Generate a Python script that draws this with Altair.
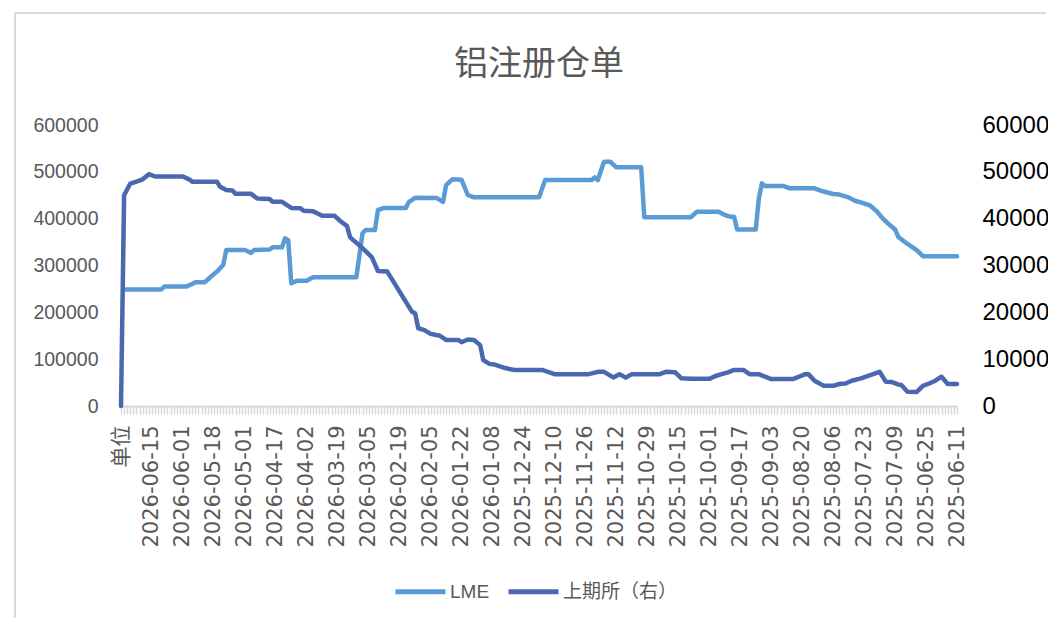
import json
import altair as alt
import pandas as pd

# ---- data ----
x_labels = ["单位", "2026-06-15", "2026-06-01", "2026-05-18", "2026-05-01", "2026-04-17",
            "2026-04-02", "2026-03-19", "2026-03-05", "2026-02-19", "2026-02-05", "2026-01-22",
            "2026-01-08", "2025-12-24", "2025-12-10", "2025-11-26", "2025-11-12", "2025-10-29",
            "2025-10-15", "2025-10-01", "2025-09-17", "2025-09-03", "2025-08-20", "2025-08-06",
            "2025-07-23", "2025-07-09", "2025-06-25", "2025-06-11"]

lme_idx = [1, 13, 14, 21, 23, 24, 27, 29, 31, 33, 34, 40, 42, 43, 48, 49, 52, 53, 54, 55,
           57, 60, 62, 76, 78, 79, 82, 83, 85, 92, 93, 94, 95, 102, 104, 105, 107, 110, 112,
           114, 135, 137, 152, 153, 154, 156, 158, 160, 168, 169, 184, 186, 193, 195, 197,
           198, 199, 205, 206, 207, 208, 214, 216, 224, 226, 230, 232, 235, 237, 240, 242,
           244, 246, 248, 250, 251, 254, 257, 259, 270]
lme_val = [249000, 249000, 255000, 255000, 260500, 264000, 264000, 276000, 287000, 301000,
           333000, 333000, 327000, 333000, 334000, 339000, 339000, 358000, 354000, 262000,
           267600, 267600, 274700, 274700, 368700, 375800, 375800, 418500, 423000, 423000,
           436000, 440000, 444700, 444000, 436000, 471800, 484000, 483000, 450500, 445500,
           445500, 482500, 482500, 488000, 482500, 521600, 521600, 509600, 509600, 402900,
           403000, 414800, 414800, 407800, 404000, 404000, 377000, 377000, 443000, 475400,
           469700, 469700, 464800, 464800, 459700, 452600, 451500, 445500, 438300, 432800,
           427700, 416300, 400700, 388000, 377000, 361500, 346000, 333000, 320000, 320000]

shfe_idx = [0, 1, 3, 5, 7, 9, 11, 20, 22, 23, 31, 32, 34, 36, 37, 42, 44, 48, 49, 52, 55,
            58, 59, 62, 65, 69, 71, 73, 74, 78, 81, 83, 86, 94, 95, 96, 98, 100, 103, 105,
            109, 110, 112, 114, 116, 117, 119, 121, 124, 127, 136, 140, 151, 154, 156, 159,
            161, 163, 165, 174, 176, 179, 181, 184, 190, 192, 194, 196, 198, 201, 203, 206,
            208, 210, 217, 219, 221, 222, 224, 227, 230, 232, 234, 236, 239, 242, 245, 247,
            249, 251, 252, 254, 257, 259, 261, 263, 265, 267, 270]
shfe_val = [0, 450000, 475000, 479000, 484000, 495000, 490000, 490000, 484000, 479000,
            479000, 468000, 461000, 460000, 453000, 453000, 443000, 442000, 436000, 436000,
            423000, 422000, 417000, 416000, 406000, 406000, 394000, 384000, 360000, 337000,
            318000, 288000, 287000, 201000, 198000, 166000, 162000, 154000, 150000, 141000,
            141000, 136000, 142000, 141000, 130000, 98000, 90000, 88000, 81000, 77000,
            77000, 68000, 68000, 73000, 73000, 61000, 68000, 60500, 68000, 68000,
            73000, 72000, 59000, 58000, 58000, 64000, 68000, 72000, 77000, 77000,
            68000, 68000, 62500, 57500, 57500, 62500, 68000, 68000, 54000, 43000,
            43000, 47000, 48000, 54000, 59000, 66000, 73000, 52000, 51000, 46000,
            45000, 30500, 30000, 43000, 48000, 54000, 62500, 47000, 47000]

series_names = ["LME", "上期所（右）"]
series_colors = ["#5B9BD5", "#4A68B0"]
y_ticks = [0, 100000, 200000, 300000, 400000, 500000, 600000]

df = pd.concat([
    pd.DataFrame({"idx": lme_idx, "value": lme_val, "series": series_names[0]}),
    pd.DataFrame({"idx": shfe_idx, "value": shfe_val, "series": series_names[1]}),
], ignore_index=True)

n_last = (len(x_labels) - 1) * 10
label_expr = ("datum.value % 10 == 0 ? " + json.dumps(x_labels, ensure_ascii=False)
              + "[datum.value / 10] : ''")

x_enc = alt.X("idx:Q",
              scale=alt.Scale(domain=[0, n_last], nice=False, zero=False),
              axis=alt.Axis(title=None, values=list(range(0, n_last + 1)), labelExpr=label_expr,
                            labelAngle=270, labelFont="DejaVu Sans, Noto Sans CJK SC",
                            labelFontSize=21, labelColor="#595959", labelPadding=11,
                            labelOverlap=False, labelFlush=False, labelBound=False,
                            grid=False, domainColor="#D9D9D9", domainWidth=2,
                            tickColor="#D9D9D9", tickSize=8, tickWidth=1.5))

color_enc = alt.Color("series:N",
                      scale=alt.Scale(domain=series_names, range=series_colors),
                      legend=alt.Legend(title=None, orient="none", direction="horizontal",
                                        legendX=272, legendY=439, symbolType="stroke",
                                        symbolSize=2500, symbolStrokeWidth=5,
                                        labelFont="Liberation Sans, Noto Sans CJK SC",
                                        labelFontSize=19, labelColor="#595959",
                                        labelOffset=2, columnPadding=8, padding=0))

base = alt.Chart(df)

lme = base.transform_filter(alt.datum.series == series_names[0]).mark_line(
    strokeWidth=4.5, strokeJoin="round", strokeCap="round").encode(
    x=x_enc,
    y=alt.Y("value:Q", scale=alt.Scale(domain=[0, 600000], nice=False),
            axis=alt.Axis(title=None, orient="left", values=y_ticks, format="d",
                          labelFont="Liberation Sans", labelFontSize=19.5,
                          labelColor="#595959", labelPadding=23, ticks=False, tickSize=0,
                          domain=False, grid=False)),
    color=color_enc,
)

shfe = base.transform_filter(alt.datum.series == series_names[1]).mark_line(
    strokeWidth=4.5, strokeJoin="round", strokeCap="round").encode(
    x=x_enc,
    y=alt.Y("value:Q", scale=alt.Scale(domain=[0, 600000], nice=False),
            axis=alt.Axis(title=None, orient="right", values=y_ticks, format="d",
                          labelFont="Liberation Sans", labelFontSize=24,
                          labelColor="#000000", labelPadding=25, ticks=False, tickSize=0,
                          domain=False, grid=False)),
    color=color_enc,
)

frame_top = alt.Chart(pd.DataFrame({"k": [0]})).mark_rule(color="#D9D9D9", strokeWidth=2).encode(
    x=alt.value(-106), x2=alt.value(925), y=alt.value(-112))
frame_left = alt.Chart(pd.DataFrame({"k": [0]})).mark_rule(color="#D9D9D9", strokeWidth=2).encode(
    x=alt.value(-106), y=alt.value(-112), y2=alt.value(500))

chart = alt.layer(lme, shfe, frame_top, frame_left).resolve_scale(
    y="independent"
).properties(
    width=836, height=281,
    padding={"left": 113, "top": 117, "right": 91, "bottom": 212},
    autosize=alt.AutoSizeParams(type="none"),
    title=alt.TitleParams("铝注册仓单", font="Noto Sans CJK SC", fontSize=34,
                          fontWeight="normal", color="#595959", anchor="middle",
                          frame="group", offset=-70),
).configure_view(stroke=None)

chart.save("out.html", embed_options={"renderer": "svg", "actions": False})
